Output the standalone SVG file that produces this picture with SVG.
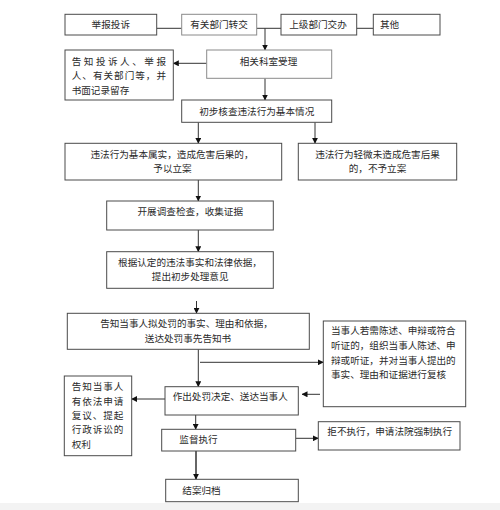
<svg xmlns="http://www.w3.org/2000/svg" width="500" height="510" viewBox="0 0 500 510">
<defs>
<marker id="ah" markerWidth="6" markerHeight="6" refX="5.5" refY="3" orient="auto" markerUnits="userSpaceOnUse">
<path d="M0,0 L6,3 L0,6 Z" fill="#111"/>
</marker>
</defs>
<style>
.box{fill:#fff;stroke:#4a4a4a;stroke-width:1}
.g{stroke:#8a8a8a}
.t{font-family:"Liberation Sans","Noto Sans CJK SC",sans-serif;font-size:9.6px;fill:#2a2a2a}
.m{text-anchor:middle}
.c{fill:none;stroke:#333;stroke-width:1}
.a{marker-end:url(#ah)}
</style>
<rect x="0" y="0" width="500" height="510" fill="#fff"/>
<rect x="0" y="503" width="500" height="7" fill="#f3f3f3"/>
<g id="connectors">
<line class="c" x1="156.7" y1="28.3" x2="181.7" y2="28.3"/>
<line class="c" x1="256.7" y1="28.3" x2="281" y2="28.3"/>
<line class="c" x1="356.7" y1="28.3" x2="373.3" y2="28.3"/>
<line class="c a" x1="265" y1="28.3" x2="265" y2="50"/>
<line class="c a" x1="206.7" y1="63.3" x2="173.3" y2="63.3"/>
<line class="c a" x1="265" y1="78.3" x2="265" y2="100"/>
<line class="c a" x1="198.3" y1="122.3" x2="198.3" y2="143.3"/>
<line class="c a" x1="315" y1="122.3" x2="315" y2="143.3"/>
<line class="c a" x1="198.3" y1="180" x2="198.3" y2="201"/>
<line class="c a" x1="198.3" y1="230" x2="198.3" y2="251.7"/>
<line class="c a" x1="196.5" y1="301" x2="196.5" y2="313.3"/>
<line class="c a" x1="198.3" y1="349.3" x2="198.3" y2="386.7"/>
<line class="c a" x1="200" y1="362.3" x2="323.3" y2="362.3"/>
<line class="c a" x1="320" y1="394.3" x2="302" y2="394.3"/>
<line class="c a" x1="165" y1="399" x2="131.7" y2="399"/>
<line class="c a" x1="195.7" y1="415" x2="195.7" y2="429.3"/>
<line class="c a" x1="295.7" y1="438.3" x2="318.3" y2="438.3"/>
<line class="c a" x1="196" y1="451" x2="196" y2="479.3" style="stroke-width:1.5"/>
</g>
<g id="n1"><rect class="box" x="65" y="14.3" width="91.7" height="20.7"/><text class="t m" x="110.8" y="28">举报投诉</text></g>
<g id="n2"><rect class="box g" x="181.7" y="14.3" width="75" height="20.7"/><text class="t m" x="219" y="28">有关部门转交</text></g>
<g id="n3"><rect class="box" x="281" y="14.3" width="75.7" height="20.7"/><text class="t m" x="318" y="28">上级部门交办</text></g>
<g id="n4"><rect class="box" x="373.3" y="14.3" width="66.7" height="20.7"/><text class="t" x="380" y="28">其他</text></g>
<g id="n5"><rect class="box g" x="206.7" y="50" width="125" height="28.3"/><text class="t m" x="268.5" y="64.5">相关科室受理</text></g>
<g id="n6"><rect class="box" x="65" y="50" width="108.3" height="50"/>
<text class="t" x="71.7" y="64.5" textLength="94.3" lengthAdjust="spacing">告知投诉人、举报</text>
<text class="t" x="71.7" y="79.4" textLength="94.3" lengthAdjust="spacing">人、有关部门等，并</text>
<text class="t" x="71.7" y="93.6">书面记录留存</text></g>
<g id="n7"><rect class="box" x="181.7" y="100" width="150" height="22.3"/><text class="t m" x="256.7" y="115">初步核查违法行为基本情况</text></g>
<g id="n8"><rect class="box" x="65" y="143.3" width="216.7" height="36.7"/>
<text class="t m" x="172" y="157.7">违法行为基本属实，造成危害后果的，</text>
<text class="t m" x="172.5" y="172.4">予以立案</text></g>
<g id="n9"><rect class="box" x="298.3" y="143.3" width="158.4" height="36.7"/>
<text class="t m" x="377.5" y="157.7">违法行为轻微未造成危害后果</text>
<text class="t m" x="377.5" y="172.4">的，不予立案</text></g>
<g id="n10"><rect class="box" x="106.7" y="201" width="166.6" height="29"/><text class="t m" x="190.3" y="215">开展调查检查，收集证据</text></g>
<g id="n11"><rect class="box" x="106.7" y="251.7" width="166.6" height="36.6"/>
<text class="t m" x="190" y="266">根据认定的违法事实和法律依据，</text>
<text class="t m" x="190.2" y="280">提出初步处理意见</text></g>
<g id="n12"><rect class="box" x="67.3" y="313.3" width="242" height="36"/>
<text class="t m" x="186.5" y="326.7">告知当事人拟处罚的事实、理由和依据，</text>
<text class="t m" x="188" y="341.7">送达处罚事先告知书</text></g>
<g id="n13"><rect class="box" x="323.3" y="321" width="142.4" height="85.7"/>
<text class="t" x="331" y="334">当事人若需陈述、申辩或符合</text>
<text class="t" x="331" y="349.3">听证的，组织当事人陈述、申</text>
<text class="t" x="331" y="364">辩或听证，并对当事人提出的</text>
<text class="t" x="331" y="378.4">事实、理由和证据进行复核</text></g>
<g id="n14"><rect class="box" x="165" y="386.7" width="133.3" height="28.3"/><text class="t" x="172.7" y="400">作出处罚决定、送达当事人</text></g>
<g id="n15"><rect class="box" x="64.3" y="376" width="67.4" height="79.7"/>
<text class="t" x="71.7" y="390" textLength="51.6" lengthAdjust="spacing">告知当事人</text>
<text class="t" x="71.7" y="405" textLength="51.6" lengthAdjust="spacing">有依法申请</text>
<text class="t" x="71.7" y="419.4" textLength="51.6" lengthAdjust="spacing">复议、提起</text>
<text class="t" x="71.7" y="433.4" textLength="51.6" lengthAdjust="spacing">行政诉讼的</text>
<text class="t" x="71.7" y="447.7">权利</text></g>
<g id="n16"><rect class="box" x="161.7" y="429.3" width="134" height="21.7"/><text class="t" x="179.3" y="443.4">监督执行</text></g>
<g id="n17"><rect class="box" x="318.3" y="421.7" width="141.7" height="28.3"/><text class="t" x="327.3" y="435">拒不执行，申请法院强制执行</text></g>
<g id="n18"><rect class="box" x="165.7" y="479.3" width="132.6" height="22.4"/><text class="t" x="182.3" y="494">结案归档</text></g>
</svg>
